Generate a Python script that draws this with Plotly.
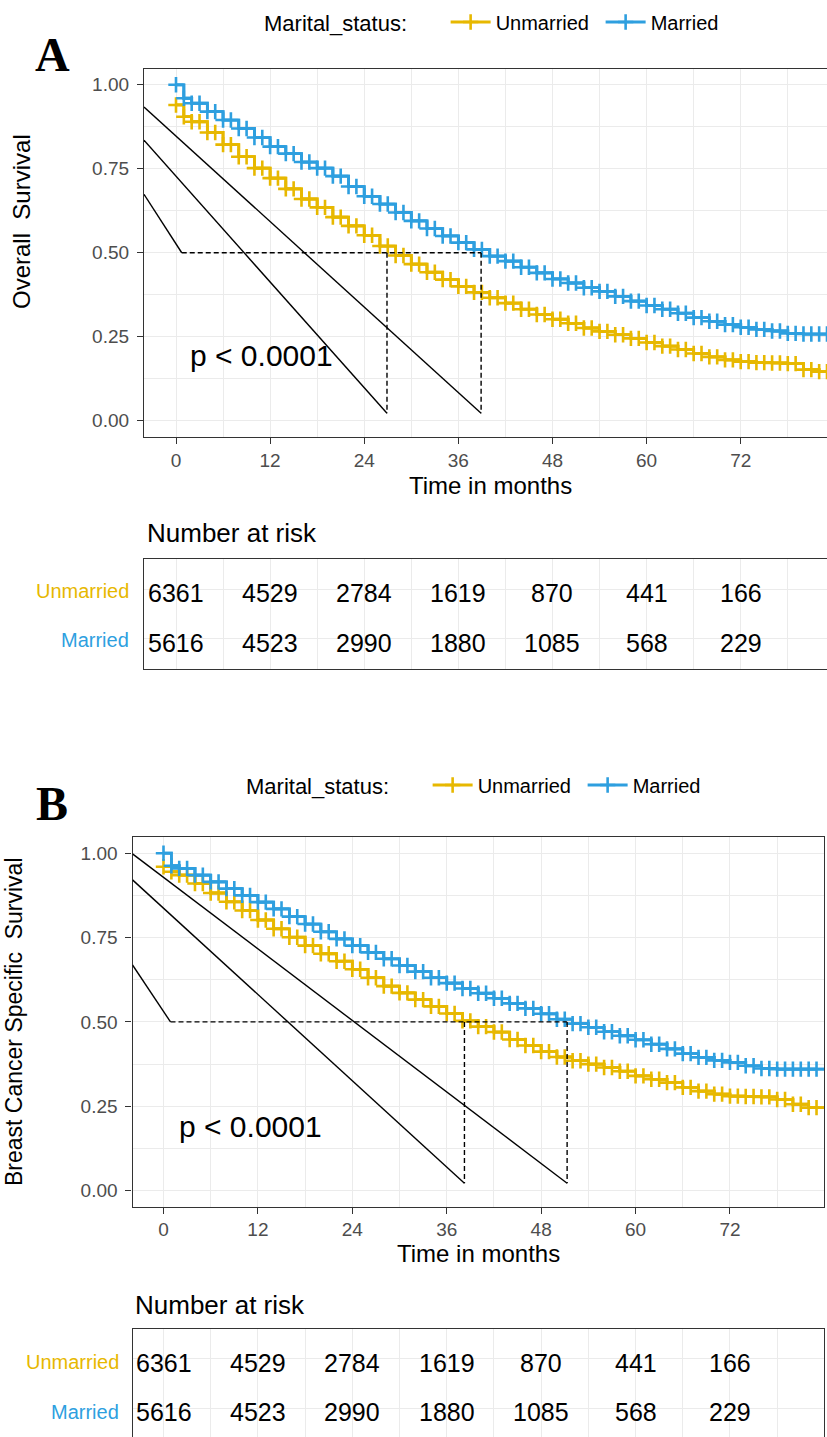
import plotly.graph_objects as go

W, H = 827, 1437

# ---------------- data ----------------
TIME = [0, 1, 2, 4, 6, 8, 10, 12, 14, 16, 18, 20, 22, 24, 26, 28, 30, 32, 34, 36, 38,
        40, 42, 44, 46, 48, 50, 52, 54, 56, 58, 60, 62, 64, 66, 68, 70, 72, 74, 76, 78,
        80, 82, 84]

A_UNMARRIED = [0.940, 0.905, 0.890, 0.858, 0.822, 0.786, 0.752, 0.722, 0.690, 0.660, 0.635,
               0.606, 0.580, 0.552, 0.520, 0.492, 0.466, 0.442, 0.420, 0.400, 0.382,
               0.366, 0.350, 0.332, 0.316, 0.302, 0.290, 0.276, 0.266, 0.256, 0.245,
               0.233, 0.222, 0.212, 0.200, 0.190, 0.181, 0.176, 0.173, 0.172, 0.170,
               0.152, 0.146, 0.146]
A_MARRIED = [1.000, 0.960, 0.945, 0.920, 0.895, 0.870, 0.843, 0.816, 0.795, 0.770, 0.752,
             0.728, 0.697, 0.668, 0.645, 0.620, 0.595, 0.572, 0.550, 0.530, 0.510,
             0.490, 0.475, 0.457, 0.440, 0.422, 0.410, 0.396, 0.385, 0.370, 0.356,
             0.343, 0.332, 0.320, 0.307, 0.296, 0.286, 0.278, 0.272, 0.267, 0.260,
             0.258, 0.258, 0.258]
B_UNMARRIED = [0.960, 0.945, 0.935, 0.910, 0.882, 0.856, 0.830, 0.802, 0.776, 0.751, 0.726,
               0.702, 0.680, 0.656, 0.631, 0.606, 0.586, 0.566, 0.546, 0.525, 0.503,
               0.486, 0.470, 0.448, 0.430, 0.412, 0.396, 0.385, 0.375, 0.365, 0.354,
               0.340, 0.330, 0.320, 0.306, 0.295, 0.286, 0.280, 0.279, 0.278, 0.270,
               0.256, 0.246, 0.246]
B_MARRIED = [1.000, 0.963, 0.955, 0.935, 0.915, 0.895, 0.875, 0.855, 0.835, 0.812, 0.790,
             0.767, 0.746, 0.726, 0.706, 0.687, 0.667, 0.649, 0.631, 0.615, 0.599,
             0.585, 0.570, 0.555, 0.540, 0.524, 0.508, 0.495, 0.484, 0.471, 0.459,
             0.447, 0.434, 0.420, 0.406, 0.395, 0.386, 0.380, 0.370, 0.362, 0.360,
             0.360, 0.360, 0.360]

GROUPS = ["Unmarried", "Married"]
COLORS = ["#E7B800", "#2E9FDF"]

RISK_TIMES = [0, 12, 24, 36, 48, 60, 72]
RISK_UNMARRIED = [6361, 4529, 2784, 1619, 870, 441, 166]
RISK_MARRIED = [5616, 4523, 2990, 1880, 1085, 568, 229]

X_TICKS = [0, 12, 24, 36, 48, 60, 72]
Y_TICKS = [0.0, 0.25, 0.5, 0.75, 1.0]
Y_TICK_TEXT = ["0.00", "0.25", "0.50", "0.75", "1.00"]

MEDIAN_A = [26.9, 38.9]      # Unmarried, Married (months)
MEDIAN_B = [38.25, 51.3]
DIAG_A_START = [0.934, 0.835, 0.674]   # hand-drawn lines leaving the left border
DIAG_B_START = [0.998, 0.921, 0.669]
HLINE_START = [0.73, 0.89]             # where the dashed 0.5 line begins (A, B)
LINE_FOOT = 0.022                      # bottom of the drawn vertical lines

P_TEXT = "p < 0.0001"
FONT = "Liberation Sans, Arial, sans-serif"

# ---------------- layout geometry ----------------
def py(p):
    return 1 - p / H

XRANGE_A = [-4.08, 83.0]
XRANGE_B = [-3.94, 83.95]
YRANGE_A = [-0.0485, 1.047]
YRANGE_B = [-0.047, 1.048]

fig = go.Figure()


def censor_points(times, surv):
    xs, ys = [], []
    for i in range(len(times) - 1):
        xs.append(times[i])
        ys.append(surv[i])
        if times[i + 1] - times[i] > 1:
            xs.append((times[i] + times[i + 1]) / 2)
            ys.append(surv[i])
    return xs, ys


def add_curves(xa, ya, series, legend):
    for name, col, surv in zip(GROUPS, COLORS, series):
        cx, cy = censor_points(TIME, surv)
        fig.add_trace(go.Scatter(
            x=TIME, y=surv, mode="lines", line=dict(color=col, width=2.8, shape="hv"),
            xaxis=xa, yaxis=ya, showlegend=False, hoverinfo="skip"))
        fig.add_trace(go.Scatter(
            x=cx, y=cy, mode="lines+markers", name=name,
            line=dict(color=col, width=2.8, shape="hv"),
            marker=dict(symbol="cross-thin", size=11, color=col, line=dict(color=col, width=2.6)),
            xaxis=xa, yaxis=ya, legend=legend, showlegend=True))


add_curves("x", "y", [A_UNMARRIED, A_MARRIED], "legend")
add_curves("x3", "y3", [B_UNMARRIED, B_MARRIED], "legend2")

# ---------------- drawn lines (median + hand drawn) ----------------
shapes = []
def seg(xref, yref, x0, y0, x1, y1, dash=None):
    shapes.append(dict(type="line", xref=xref, yref=yref, x0=x0, y0=y0, x1=x1, y1=y1,
                       line=dict(color="black", width=1.4, dash=dash or "solid"), layer="above"))

for xref, yref, med, diag, hstart, xr in [("x", "y", MEDIAN_A, DIAG_A_START, HLINE_START[0], XRANGE_A),
                                          ("x3", "y3", MEDIAN_B, DIAG_B_START, HLINE_START[1], XRANGE_B)]:
    seg(xref, yref, hstart, 0.5, max(med), 0.5, "5px,3px")
    for m in med:
        seg(xref, yref, m, 0.5, m, LINE_FOOT, "5px,3px")
    seg(xref, yref, xr[0], diag[0], med[1], LINE_FOOT)
    seg(xref, yref, xr[0], diag[1], med[0], LINE_FOOT)
    seg(xref, yref, xr[0], diag[2], hstart, 0.5)

# ---------------- annotations ----------------
ann = []
def text(x, y, s, size, color="black", xanchor="center", yanchor="middle", angle=0, family=FONT):
    ann.append(dict(x=x / W, y=py(y), xref="paper", yref="paper", text=s, showarrow=False,
                    xanchor=xanchor, yanchor=yanchor, textangle=angle,
                    font=dict(family=family, size=size, color=color)))

text(52, 54, "<b>A</b>", 48, family="Liberation Serif, Times New Roman, serif")
text(52, 803, "<b>B</b>", 48, family="Liberation Serif, Times New Roman, serif")
text(490, 486, "Time in months", 24)
text(478, 1253, "Time in months", 24)
text(22, 222, "Overall  Survival", 24, angle=-90)
text(14, 1022, "Breast Cancer Specific  Survival", 23, angle=-90)
text(145, 533, "Number at risk", 26, xanchor="left")
text(133, 1305, "Number at risk", 26, xanchor="left")
text(131, 591, GROUPS[0], 20, COLORS[0], xanchor="right")
text(131, 640, GROUPS[1], 20, COLORS[1], xanchor="right")
text(121, 1362, GROUPS[0], 20, COLORS[0], xanchor="right")
text(121, 1412, GROUPS[1], 20, COLORS[1], xanchor="right")

# risk table numbers, placed on the table axes
for xref, yref in [("x2", "y2"), ("x4", "y4")]:
    for row, vals in [(2, RISK_UNMARRIED), (1, RISK_MARRIED)]:
        for t, v in zip(RISK_TIMES, vals):
            ann.append(dict(x=t, y=row, xref=xref, yref=yref, text=str(v), showarrow=False,
                            xanchor="center", yanchor="middle", yshift=-4,
                            font=dict(family=FONT, size=25, color="black")))

for xref, yref, xv, yv in [("x", "y", 1.5, 0.195), ("x3", "y3", 1.74, 0.189)]:
    ann.append(dict(x=xv, y=yv, xref=xref, yref=yref, text=P_TEXT, showarrow=False,
                    xanchor="left", yanchor="middle", font=dict(family=FONT, size=30, color="black")))

# ---------------- axes ----------------
GRID = "#EBEBEB"
LINEC = "#333333"
tickfont = dict(family=FONT, size=19, color="#4D4D4D")

def xaxis_plot(dom, rng, mirror):
    return dict(domain=dom, range=rng, tickvals=X_TICKS, ticks="outside", ticklen=6, tickwidth=1.3,
                tickcolor=LINEC, tickfont=tickfont, showgrid=True, gridcolor=GRID, gridwidth=1.3,
                minor=dict(dtick=6, tick0=0, showgrid=True, gridcolor=GRID, gridwidth=0.8, ticks=""),
                showline=True, linecolor=LINEC, linewidth=1.3, mirror=mirror, zeroline=False,
                fixedrange=True)

def yaxis_plot(dom, rng, mirror, anchor):
    return dict(domain=dom, range=rng, tickvals=Y_TICKS, ticktext=Y_TICK_TEXT, ticks="outside",
                ticklen=6, tickwidth=1.3, tickcolor=LINEC, tickfont=tickfont, showgrid=True,
                gridcolor=GRID, gridwidth=1.3,
                minor=dict(tickvals=[0.125, 0.375, 0.625, 0.875], showgrid=True, gridcolor=GRID,
                           gridwidth=0.8, ticks=""),
                showline=True, linecolor=LINEC, linewidth=1.3, mirror=mirror, zeroline=False,
                anchor=anchor, ticklabelstandoff=4, fixedrange=True)

def xaxis_table(dom, rng, mirror, side="bottom"):
    return dict(domain=dom, range=rng, tickvals=X_TICKS, showticklabels=False, ticks="",
                showgrid=True, gridcolor=GRID, gridwidth=1.3,
                minor=dict(dtick=6, tick0=0, showgrid=True, gridcolor=GRID, gridwidth=0.8, ticks=""),
                showline=True, linecolor=LINEC, linewidth=1.3, mirror=mirror, zeroline=False,
                side=side, fixedrange=True)

def yaxis_table(dom, rng, mirror, anchor):
    return dict(domain=dom, range=rng, tickvals=[1, 2], showticklabels=False, ticks="",
                showgrid=True, gridcolor=GRID, gridwidth=1.3, showline=True, linecolor=LINEC,
                linewidth=1.3, mirror=mirror, zeroline=False, anchor=anchor, fixedrange=True)

XDOM_A = [144 / W, 1.0]
XDOM_B = [132.5 / W, 824 / W]

# invisible traces so the table axes exist
for xa, ya, rng in [("x2", "y2", XRANGE_A), ("x4", "y4", XRANGE_B)]:
    fig.add_trace(go.Scatter(x=[rng[0]], y=[1.5], mode="markers", marker=dict(opacity=0),
                             xaxis=xa, yaxis=ya, showlegend=False, hoverinfo="skip"))

def legend_cfg(x, y):
    return dict(orientation="h", x=x / W, y=py(y), xanchor="left", yanchor="middle",
                title=dict(text="Marital_status:&nbsp;&nbsp;&nbsp;&nbsp;&nbsp;", side="left",
                           font=dict(family=FONT, size=22, color="black")),
                font=dict(family=FONT, size=20, color="black"), bgcolor="rgba(0,0,0,0)",
                itemwidth=40, entrywidth=100, entrywidthmode="pixels")

fig.update_layout(
    width=W, height=H, margin=dict(l=0, r=0, t=0, b=0),
    paper_bgcolor="white", plot_bgcolor="white",
    font=dict(family=FONT, color="black"),
    xaxis=xaxis_plot(XDOM_A, XRANGE_A, True) | dict(anchor="y"),
    yaxis=yaxis_plot([py(437), py(69)], YRANGE_A, False, "x"),
    xaxis2=xaxis_table(XDOM_A, XRANGE_A, True) | dict(anchor="y2"),
    yaxis2=yaxis_table([py(668.5), py(559.3)], [0.4, 2.6], False, "x2"),
    xaxis3=xaxis_plot(XDOM_B, XRANGE_B, True) | dict(anchor="y3"),
    yaxis3=yaxis_plot([py(1206.5), py(837)], YRANGE_B, True, "x3"),
    xaxis4=xaxis_table(XDOM_B, XRANGE_B, False, side="top") | dict(anchor="y4"),
    yaxis4=yaxis_table([0.0, py(1329)], [0.42, 2.6], True, "x4"),
    shapes=shapes, annotations=ann,
    legend=legend_cfg(262, 22),
    legend2=legend_cfg(244, 785),
    showlegend=True,
)

fig.write_html("out.html")
